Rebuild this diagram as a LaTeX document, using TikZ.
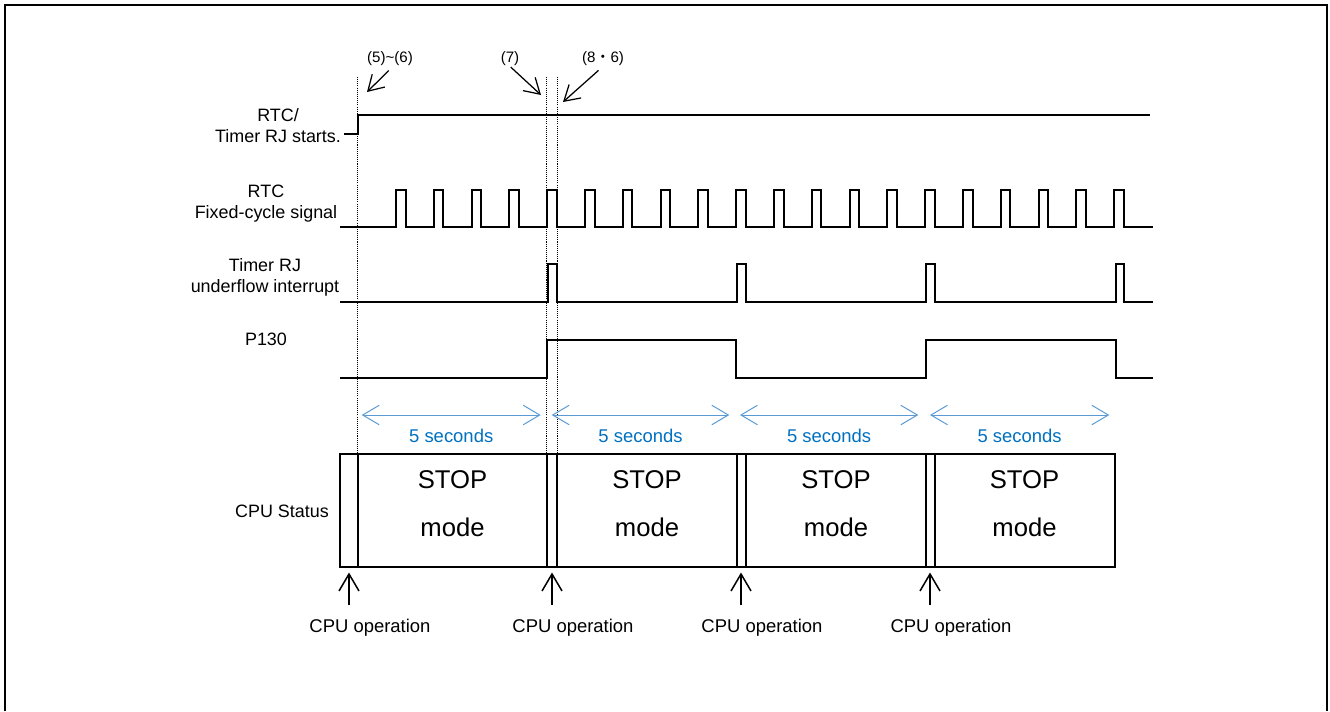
\documentclass[tikz,border=0pt]{standalone}
\usepackage{fontspec}
\setmainfont{Liberation Sans}
\newfontfamily\cjk{Noto Sans CJK JP}
\usetikzlibrary{arrows.meta}

\definecolor{secblue}{RGB}{0,112,192}
\definecolor{secline}{RGB}{91,155,213}

\begin{document}
\begin{tikzpicture}[x=0.2mm, y=-0.2mm,
    sig/.style={line width=0.4mm, line join=miter},
    guide/.style={line width=0.2mm, dash pattern=on 0.6pt off 0.6pt},
    span/.style={secline, line width=0.2mm, {Straight Barb[length=3.3mm,width=3.9mm]}-{Straight Barb[length=3.3mm,width=3.9mm]}},
    ptr/.style={line width=0.25mm, -{Straight Barb[length=3mm,width=3.6mm]}},
    sidelbl/.style={align=center, inner sep=0, anchor=north, font=\fontsize{10.2}{11.9}\selectfont},
    steplbl/.style={inner sep=0, font=\fontsize{8.6}{10}\selectfont},
    modetxt/.style={font=\fontsize{14.6}{17}\selectfont},
    seclbl/.style={secblue, font=\fontsize{10.5}{12}\selectfont},
    oplbl/.style={inner sep=0, anchor=north, font=\fontsize{10.5}{12}\selectfont}]
    \useasboundingbox (0,0) rectangle (1330,711);

    % frame
    \draw[line width=0.4mm] (5,711) -- (5,5) -- (1327,5) -- (1327,711);

    % signal names
    \node[sidelbl] (lstart) at (278,108) {RTC/\\Timer RJ starts.};
    \node[sidelbl] (lrtc) at (266,185) {RTC\\Fixed-cycle signal};
    \node[sidelbl] (ltrj) at (265,258) {Timer RJ\\underflow interrupt};
    \node[sidelbl] (lp130) at (266,333) {P130};
    \node[sidelbl] (lcpu) at (282,505) {CPU Status};

    % step marks
    \foreach \xx in {357.5,546.5,557}
        \draw[guide] (\xx,77) -- (\xx,453);
    \node[steplbl] (l56) at (390,59) {(5)\textasciitilde(6)};
    \node[steplbl] (l7) at (510,59) {(7)};
    \node[steplbl] (l86) at (603,59) {(8{\cjk ・}6)};
    \coordinate (p56) at (367,92);
    \coordinate (p7) at (541,95);
    \coordinate (p86) at (563,102);
    \draw[ptr, shorten <=1.2mm] ([xshift=0.6mm]l56.south) -- (p56);
    \draw[ptr, shorten <=0.2mm] (l7.south) -- (p7);
    \draw[ptr, shorten <=1.2mm] (l86.south) -- (p86);

    % RTC / Timer RJ start
    \draw[sig] (344,134) -- (357.5,134) -- (357.5,115) -- (1150,115);

    % RTC fixed-cycle signal
    \draw[sig] (340,227) foreach \k in {0,...,19} {
        -- ({396+37.8*\k},227) -- ++(0,-37) -- ++(9.5,0) -- ++(0,37)
    } -- (1153,227);

    % Timer RJ underflow interrupt
    \draw[sig] (340,302) foreach \k in {0,...,3} {
        -- ({548+189.2*\k},302) -- ++(0,-38) -- ++(8.5,0) -- ++(0,38)
    } -- (1153,302);

    % P130
    \draw[sig] (340,378) -- (547,378) -- (547,340) -- (736,340) -- (736,378)
        -- (926,378) -- (926,340) -- (1115.5,340) -- (1115.5,378) -- (1153,378);

    % 5 seconds
    \foreach \xa/\xb in {361.7/540.7, 551.7/729.3, 740/918.3, 930/1109.3} {
        \draw[span] (\xa,415) -- (\xb,415);
        \node[seclbl] at ({(\xa+\xb)/2},436) {5 seconds};
    }

    % CPU status
    \node[draw, line width=0.3mm, inner sep=0, anchor=north west,
        minimum width=155mm, minimum height=22.6mm] (cpu) at (339,453) {};
    \foreach \xx in {358,547,557,737,746,926,935}
        \draw[line width=0.3mm] (\xx,453) -- (\xx,566);
    \foreach \xm in {452.5,647,836,1024.5} {
        \node[modetxt] at (\xm,480) {STOP};
        \node[modetxt] at (\xm,527) {mode};
    }

    % CPU operation
    \foreach \ax/\nm in {349/1, 552/2, 741/3, 930/4} {
        \coordinate (u\nm) at (\ax,0);
        \node[oplbl] (op\nm) at (\ax+21,619) {CPU operation};
        \draw[line width=0.3mm, -{Straight Barb[length=3.4mm,width=4mm]},
            shorten <=2.8mm, shorten >=1mm] (op\nm.north -| u\nm) -- (cpu.south -| u\nm);
    }
\end{tikzpicture}
\end{document}
